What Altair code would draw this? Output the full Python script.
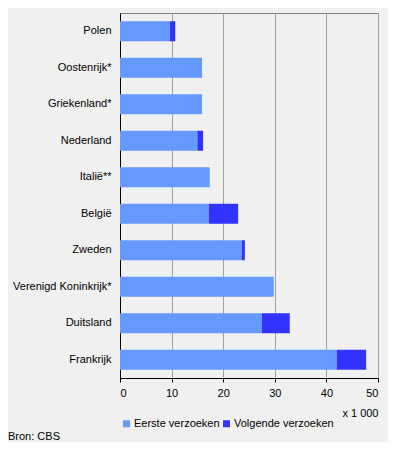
import altair as alt
import pandas as pd

countries = ["Polen", "Oostenrijk*", "Griekenland*", "Nederland", "Italië**",
             "België", "Zweden", "Verenigd Koninkrijk*", "Duitsland", "Frankrijk"]
eerste = [9.7, 15.9, 15.9, 15.0, 17.4, 17.2, 23.6, 29.8, 27.5, 42.0]
volgende = [1.0, 0.0, 0.0, 1.1, 0.0, 5.7, 0.6, 0.0, 5.4, 5.7]
series = ["Eerste verzoeken", "Volgende verzoeken"]
colors = ["#6699ff", "#3333ff"]

rows = []
for c, e, v in zip(countries, eerste, volgende):
    rows.append({"land": c, "reeks": series[0], "waarde": e, "ord": 0})
    rows.append({"land": c, "reeks": series[1], "waarde": v, "ord": 1})
df = pd.DataFrame(rows)

FONT = "Liberation Sans"

bars = alt.Chart(df).mark_bar(size=20).encode(
    y=alt.Y("land:N", sort=countries, title=None,
            scale=alt.Scale(paddingInner=0.45, paddingOuter=0.225),
            axis=alt.Axis(ticks=False, tickSize=0, labelPadding=9, domainColor="#000000",
                          labelFontSize=11, labelFont=FONT, labelColor="#000000",
                          grid=False)),
    x=alt.X("waarde:Q", stack="zero",
            scale=alt.Scale(domain=[0, 50], nice=False),
            axis=alt.Axis(values=[0, 10, 20, 30, 40, 50], grid=True, gridColor="#a0a0a0",
                          tickColor="#000000", tickSize=4, domainColor="#000000",
                          labelPadding=5, labelFontSize=11, labelFont=FONT,
                          labelColor="#000000", title="x 1 000", titleFont=FONT,
                          titleFontSize=11, titleFontWeight="normal", titleColor="#000000",
                          titleAnchor="end", titleAlign="right", titleX=258, titleY=29)),
    color=alt.Color("reeks:N", scale=alt.Scale(domain=series, range=colors),
                    legend=alt.Legend(title=None, orient="none", direction="horizontal",
                                      legendX=1, legendY=405, symbolType="square",
                                      symbolSize=49, symbolStrokeWidth=0, labelFontSize=11,
                                      labelFont=FONT, labelColor="#000000", labelOffset=2,
                                      columnPadding=1, padding=0)),
    order=alt.Order("ord:Q"),
)

src = alt.Chart(pd.DataFrame({"t": ["Bron: CBS"]})).mark_text(
    align="left", baseline="middle", fontSize=11, font=FONT, color="#000000"
).encode(text="t:N", x=alt.value(-112), y=alt.value(424))

chart = alt.layer(bars, src).properties(
    width=258, height=365, background="#f0f0f0",
    padding={"left": 112, "top": 5, "right": 10, "bottom": 64},
    autosize=alt.AutoSizeParams(type="none"),
).configure_view(stroke="#808080", fill="#f0f0f0")

chart.save("out.html", embed_options={"renderer": "svg", "actions": False})
